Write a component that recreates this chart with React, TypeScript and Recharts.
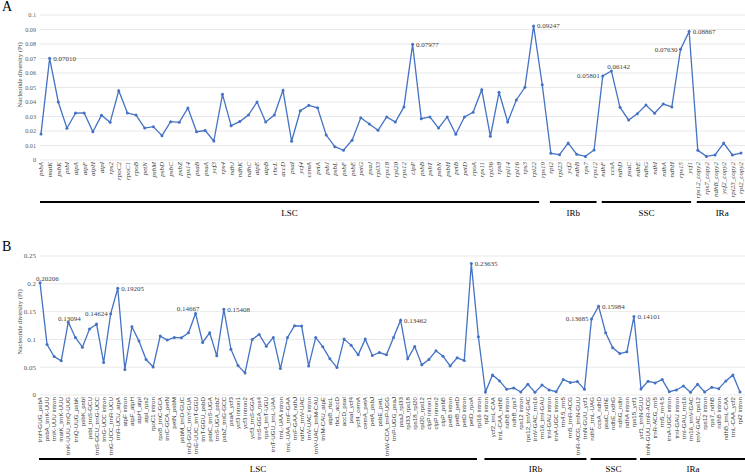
// Nucleotide diversity (Pi) along the plastome: A = genes, B = intergenic / intron regions.
import { CartesianGrid, Line, LineChart, XAxis, YAxis } from 'recharts'

const BLUE = '#4472c4'
const SERIF = '"Liberation Serif", "Times New Roman", serif'
const SANS = '"Liberation Sans", Arial, sans-serif'
const W = 745
const Y_AXIS_W = 40
const PLOT_W = W - Y_AXIS_W

// ---- panel A: genes
const genesA = [
  'psbA', 'matK', 'psbK', 'psbI', 'atpA', 'atpF', 'atpH', 'atpI', 'rps2', 'rpoC2',
  'rpoC1', 'rpoB', 'petN', 'psbM', 'psbD', 'psbC', 'psbZ', 'rps14', 'psaB', 'psaA',
  'ycf3', 'rps4', 'ndhJ', 'ndhK', 'ndhC', 'atpE', 'atpB', 'rbcL', 'accD', 'psaI',
  'ycf4', 'cemA', 'petA', 'psbJ', 'psbL', 'psbF', 'psbE', 'petG', 'psaJ', 'rpl33',
  'rps18', 'rpl20', 'rps12', 'clpP', 'psbB', 'psbT', 'psbN', 'psbH', 'petB', 'petD',
  'rpoA', 'rps11', 'rpl36', 'rps8', 'rpl14', 'rpl16', 'rps3', 'rpl22', 'rps19',
  'rpl2', 'rpl23', 'ycf2', 'ndhB', 'rps7', 'rps12',
  'ndhF', 'ccsA', 'ndhD', 'psaC', 'ndhE', 'ndhG', 'ndhI', 'ndhA', 'ndhH', 'rps15', 'ycf1',
  'rps12_copy2', 'rps7_copy2', 'ndhB_copy2', 'ycf2_copy2', 'rpl23_copy2', 'rpl2_copy2',
]
const piA = [
  0.018, 0.0701, 0.04, 0.0219, 0.0324, 0.0325, 0.0195, 0.0308, 0.026, 0.0478,
  0.0324, 0.031, 0.022, 0.023, 0.0168, 0.0264, 0.026, 0.0359, 0.0195, 0.0203,
  0.0131, 0.0453, 0.0237, 0.0265, 0.031, 0.04, 0.0262, 0.031, 0.048, 0.0129,
  0.034, 0.0377, 0.036, 0.0172, 0.0092, 0.0067, 0.0136, 0.0292, 0.0248, 0.0205,
  0.0297, 0.0262, 0.0366, 0.07977, 0.0285, 0.0297, 0.022, 0.0297, 0.0177, 0.0297,
  0.0329, 0.0485, 0.0163, 0.0467, 0.0262, 0.0414, 0.0501, 0.09247, 0.0519,
  0.0046, 0.0037, 0.0117, 0.0039, 0.0025, 0.0069,
  0.05801, 0.06142, 0.0363, 0.0276, 0.0319, 0.0379, 0.0322, 0.0386, 0.0366, 0.0763, 0.08867,
  0.0067, 0.0025, 0.0035, 0.0117, 0.0035, 0.0048,
]
const regionsA = [
  { name: 'LSC', count: 59 },
  { name: 'IRb', count: 6 },
  { name: 'SSC', count: 11 },
  { name: 'IRa', count: 6 },
]
const peaksA: [number, string][] = [
  [1, 'right'], [43, 'right'], [57, 'right'], [65, 'left'], [66, 'aboveRight'], [74, 'left'], [75, 'right'],
]
const ticksA = [0, 0.01, 0.02, 0.03, 0.04, 0.05, 0.06, 0.07, 0.08, 0.09, 0.1]

// ---- panel B: intergenic spacers and introns
const spacersB = [
  'trnH-GUG_psbA', 'psbA_trnK-UUU', 'trnK-UUU intron', 'matK_trnK-UUU', 'trnK-UUU_trnQ-UUG',
  'trnQ-UUG_psbK', 'psbK_psbI', 'psbI_trnS-GCU', 'trnS-GCU_trnG-UCC', 'trnG-UCC intron',
  'trnG-UCC_trnR-UCU', 'trnR-UCU_atpA', 'atpF intron', 'atpF_atpH', 'atpH_atpI',
  'atpI_rps2', 'rpoC1 intron', 'rpoB_trnC-GCA', 'trnC-GCA_petN', 'petN_psbM',
  'psbM_trnD-GUC', 'trnD-GUC_trnY-GUA', 'trnE-UUC_trnT-GGU', 'trnT-GGU_psbD', 'psbC_trnS-UGA',
  'trnS-UGA_psbZ', 'psbZ_trnG-GCC', 'psaA_ycf3', 'ycf3 intron1', 'ycf3 intron2',
  'ycf3_trnS-GGA', 'trnS-GGA_rps4', 'rps4_trnT-UGU', 'trnT-UGU_trnL-UAA', 'trnL-UAA intron',
  'trnL-UAA_trnF-GAA', 'trnF-GAA_ndhJ', 'ndhC_trnV-UAC', 'trnV-UAC intron', 'trnV-UAC_trnM-CAU',
  'trnM-CAU_atpE', 'atpB_rbcL', 'rbcL_accD', 'accD_psaI', 'psaI_ycf4',
  'ycf4_cemA', 'cemA_petA', 'petA_psbJ', 'psbE_petL', 'trnW-CCA_trnP-UGG',
  'trnP-UGG_psaJ', 'psaJ_rpl33', 'rpl33_rps18', 'rps18_rpl20', 'rpl20_rps12',
  'clpP intron1', 'clpP intron2', 'clpP_psbB', 'petB intron', 'petB_petD',
  'petD intron', 'petD_rpoA', 'rpl16 intron',
  'rpl2 intron', 'ycf2_trnL-CAA', 'trnL-CAA_ndhB', 'ndhB intron', 'ndhB_rps7',
  'rps12 intron', 'rps12_trnV-GAC', 'trnV-GAC_rrn16', 'rrn16_trnI-GAU', 'trnI-GAU intron',
  'trnA-UGC intron', 'rrn4.5_rrn5', 'rrn5_trnR-ACG', 'trnR-ACG_trnN-GUU', 'trnN-GUU_ycf1',
  'ndhF_trnL-UAG', 'ccsA_ndhD', 'psaC_ndhE', 'ndhE_ndhG', 'ndhG_ndhI', 'ndhA intron', 'rps15_ycf1',
  'ycf1_trnN-GUU', 'trnN-GUU_trnR-ACG', 'trnR-ACG_rrn5', 'rrn5_rrn4.5', 'trnA-UGC intron',
  'trnI-GAU intron', 'trnI-GAU_rrn16', 'rrn16_trnV-GAC', 'trnV-GAC_rps12', 'rps12 intron',
  'rps7_ndhB', 'ndhB intron', 'ndhB_trnL-CAA', 'trnL-CAA_ycf2', 'rpl2 intron',
]
const piB = [
  0.20206, 0.0909, 0.0692, 0.0614, 0.13094, 0.1035, 0.086, 0.1185, 0.1276, 0.0584,
  0.14624, 0.19205, 0.0457, 0.1227, 0.0969, 0.0638, 0.0505, 0.1059, 0.0987, 0.1035,
  0.1029, 0.1119, 0.14667, 0.0945, 0.1119, 0.0704, 0.15408, 0.0824, 0.0529, 0.0397,
  0.0999, 0.1089, 0.0878, 0.1035, 0.0475, 0.1035, 0.1245, 0.1239, 0.0523, 0.1035,
  0.0866, 0.065, 0.0493, 0.1005, 0.0897, 0.0722, 0.1005, 0.071, 0.0764, 0.0722,
  0.1035, 0.13462, 0.065, 0.0872, 0.0542, 0.0638, 0.0794, 0.0698, 0.0523, 0.0668,
  0.062, 0.23635, 0.1047,
  0.0054, 0.0361, 0.0253, 0.0102, 0.0126, 0.0054, 0.0193, 0.0048, 0.018, 0.009,
  0.006, 0.0277, 0.0223, 0.0241, 0.0102,
  0.13685, 0.15984, 0.1119, 0.0848, 0.0746, 0.0776, 0.14101,
  0.0108, 0.0247, 0.0217, 0.0277, 0.006, 0.009, 0.0162, 0.0048, 0.0193, 0.0054,
  0.0138, 0.0114, 0.0253, 0.0361, 0.0054,
]
const regionsB = [
  { name: 'LSC', count: 63 },
  { name: 'IRb', count: 15 },
  { name: 'SSC', count: 7 },
  { name: 'IRa', count: 15 },
]
const peaksB: [number, string][] = [
  [0, 'aboveRight'], [4, 'above'], [10, 'left'], [11, 'right'], [22, 'aboveLeft'], [26, 'right'],
  [51, 'right'], [61, 'right'], [78, 'left'], [79, 'right'], [84, 'right'],
]
const ticksB = [0, 0.05, 0.1, 0.15, 0.2, 0.25]

const fmtTick = (v: number) => String(+v.toFixed(2))

const placement: Record<string, { dx: number; dy: number; anchor: 'start' | 'end' | 'middle' }> = {
  right: { dx: 3.5, dy: 2.5, anchor: 'start' },
  left: { dx: -3, dy: 2.5, anchor: 'end' },
  above: { dx: 1, dy: -1, anchor: 'middle' },
  aboveRight: { dx: -4, dy: -2, anchor: 'start' },
  aboveLeft: { dx: 4, dy: -2.5, anchor: 'end' },
}

type PanelProps = {
  letter: string
  names: string[]
  pi: number[]
  regions: { name: string; count: number }[]
  peaks: [number, string][]
  ticks: number[]
  top: number
  height: number
  plotTop: number
  nameAxisH: number
  regionAxisH: number
  padL: number
  padR: number
  nameFont: { size: number; family: string; italic: boolean }
  tickFont: number
  regionTextDy: number
  titleY: number
}

function Panel(p: PanelProps) {
  const data = p.names.map((name, i) => ({ name, pi: p.pi[i] }))
  const band = (PLOT_W - p.padL - p.padR) / p.names.length
  const starts = p.regions.map((_, k) => p.regions.slice(0, k).reduce((s, r) => s + r.count, 0))
  const peakAt = new Map(p.peaks)

  const nameTick = ({ x, y, payload }: any) => (
    <text
      x={x}
      y={y}
      dx={-2}
      dy={p.nameFont.size * 0.35}
      transform={`rotate(-90 ${x} ${y})`}
      textAnchor="end"
      fontSize={p.nameFont.size}
      fontFamily={p.nameFont.family}
      fontStyle={p.nameFont.italic ? 'italic' : 'normal'}
      fill="#404040"
    >
      {payload.value}
    </text>
  )

  const regionTick = ({ x, y, index }: any) => {
    const k = starts.indexOf(index)
    if (k < 0) return <g />
    const r = p.regions[k]
    const x1 = x - 1
    const x2 = x + (r.count - 1) * band + (k === p.regions.length - 1 ? 7 : 3)
    return (
      <g>
        <line x1={x1} x2={x2} y1={y + 2} y2={y + 2} stroke="#000" strokeWidth={2} />
        <text x={(x1 + x2) / 2} y={y + p.regionTextDy} textAnchor="middle" fontSize={9} fontFamily={SERIF} fill="#000">
          {r.name}
        </text>
      </g>
    )
  }

  const dot = (d: any) => {
    const mode = peakAt.get(d.index)
    const pl = mode ? placement[mode] : null
    return (
      <g key={`d${d.index}`}>
        <circle cx={d.cx} cy={d.cy} r={1.5} fill={BLUE} />
        {pl && (
          <text x={d.cx + pl.dx} y={d.cy + pl.dy} textAnchor={pl.anchor} fontSize={7} fontFamily={SERIF} fill="#404040">
            {d.payload.pi.toFixed(5)}
          </text>
        )}
      </g>
    )
  }

  return (
    <div style={{ position: 'absolute', left: 0, top: p.top, width: W, height: p.height }}>
      <LineChart width={W} height={p.height} data={data} margin={{ top: p.plotTop, right: 0, bottom: 0, left: 0 }}>
        <CartesianGrid xAxisId="name" vertical={false} stroke="#e3e3e3" strokeWidth={0.8} />
        <XAxis
          xAxisId="name"
          dataKey="name"
          interval={0}
          axisLine={false}
          tickLine={false}
          tickSize={0}
          tickMargin={0}
          height={p.nameAxisH}
          padding={{ left: p.padL, right: p.padR }}
          tick={nameTick}
        />
        <XAxis
          xAxisId="region"
          dataKey="name"
          interval={0}
          axisLine={false}
          tickLine={false}
          tickSize={0}
          tickMargin={0}
          height={p.regionAxisH}
          padding={{ left: p.padL, right: p.padR }}
          tick={regionTick}
        />
        <YAxis
          domain={[0, p.ticks[p.ticks.length - 1]]}
          ticks={p.ticks}
          interval={0}
          tickFormatter={fmtTick}
          axisLine={false}
          tickLine={false}
          tickSize={0}
          tickMargin={4}
          width={Y_AXIS_W}
          tick={{ fontSize: p.tickFont, fill: '#595959', fontFamily: SERIF }}
        />
        <Line
          xAxisId="region"
          dataKey="pi"
          stroke="none"
          dot={false}
          activeDot={false}
          isAnimationActive={false}
        />
        <Line
          xAxisId="name"
          type="linear"
          dataKey="pi"
          stroke={BLUE}
          strokeWidth={1.3}
          dot={dot}
          activeDot={false}
          isAnimationActive={false}
        />
      </LineChart>
      <div style={{ position: 'absolute', left: 2, top: 0, fontFamily: SERIF, fontSize: 14, lineHeight: '14px', color: '#000' }}>
        {p.letter}
      </div>
      <div
        style={{
          position: 'absolute',
          left: 19,
          top: p.titleY,
          transform: 'translate(-50%, -50%) rotate(-90deg)',
          whiteSpace: 'nowrap',
          fontFamily: SERIF,
          fontSize: 6.6,
          color: '#404040',
        }}
      >
        Nucleotide diversity (Pi)
      </div>
    </div>
  )
}

export default function App() {
  return (
    <div style={{ position: 'absolute', left: 0, top: 0, width: W, height: 474, background: '#fff' }}>
      <Panel
        letter="A"
        names={genesA}
        pi={piA}
        regions={regionsA}
        peaks={peaksA}
        ticks={ticksA}
        top={0}
        height={222}
        plotTop={15}
        nameAxisH={40}
        regionAxisH={22}
        padL={1}
        padR={4}
        nameFont={{ size: 7, family: SERIF, italic: true }}
        tickFont={6.2}
        regionTextDy={16}
        titleY={75}
      />
      <Panel
        letter="B"
        names={spacersB}
        pi={piB}
        regions={regionsB}
        peaks={peaksB}
        ticks={ticksB}
        top={240}
        height={234}
        plotTop={16}
        nameAxisH={62}
        regionAxisH={17}
        padL={0}
        padR={5}
        nameFont={{ size: 6.2, family: SANS, italic: false }}
        tickFont={7}
        regionTextDy={15}
        titleY={82}
      />
    </div>
  )
}
